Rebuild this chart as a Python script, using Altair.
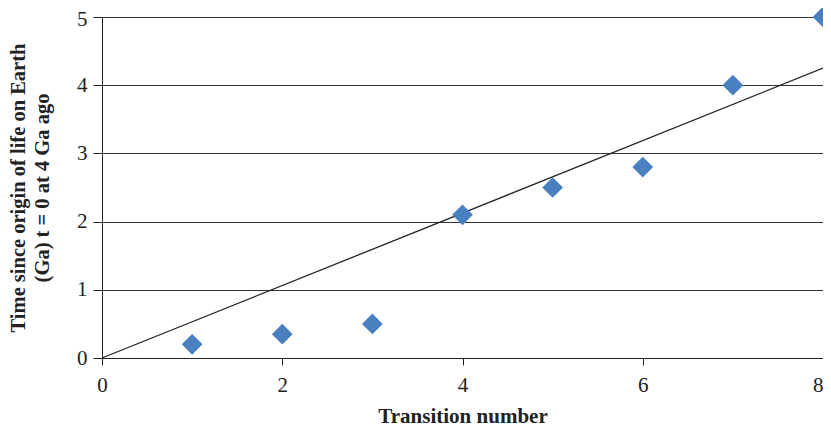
import altair as alt
import pandas as pd

transition = [1, 2, 3, 4, 5, 6, 7, 8]
time_ga = [0.2, 0.35, 0.5, 2.1, 2.5, 2.8, 4.0, 5.0]
fit_x = [0, 8]
fit_y = [0, 4.25]

pts = pd.DataFrame({"x": transition, "y": time_ga})
fit = pd.DataFrame({"x": fit_x, "y": fit_y})

FONT = "Liberation Serif"

xscale = alt.Scale(domain=[0, 8], nice=False)
yscale = alt.Scale(domain=[0, 5], nice=False)

xaxis = alt.Axis(title="Transition number", values=[0, 2, 4, 6, 8], grid=False, format="d",
                 tickSize=7, tickColor="#222", domainColor="#222",
                 labelAlign=alt.expr("datum.value == 8 ? 'right' : 'center'"),
                 labelFlush=False,
                 labelFont=FONT, labelFontSize=21, labelColor="#222", labelPadding=9,
                 titleFont=FONT, titleFontSize=21, titleFontWeight="bold", titleColor="#222",
                 titlePadding=10)
yaxis = alt.Axis(title=["Time since origin of life on Earth", "(Ga) t = 0 at 4 Ga ago"],
                 values=[0, 1, 2, 3, 4, 5], grid=True, gridColor="#333", gridWidth=1, format="d",
                 tickSize=9, tickColor="#222", domainColor="#222", labelFlush=False,
                 labelOffset=alt.expr("datum.value == 5 ? 2 : 0"),
                 labelFont=FONT, labelFontSize=21, labelColor="#222", labelPadding=6,
                 titleFont=FONT, titleFontSize=20.5, titleFontWeight="bold", titleColor="#222",
                 titlePadding=24, titleLineHeight=24)

points = alt.Chart(pts).mark_point(shape="diamond", filled=True, size=430,
                                   color="#4a7fc0", opacity=1).encode(
    x=alt.X("x:Q", scale=xscale, axis=xaxis),
    y=alt.Y("y:Q", scale=yscale, axis=yaxis),
)

line = alt.Chart(fit).mark_line(color="#222", strokeWidth=1.3, clip=False).encode(
    x=alt.X("x:Q", scale=xscale),
    y=alt.Y("y:Q", scale=yscale),
)

chart = alt.layer(line, points).properties(
    width=721, height=341,
    autosize=alt.AutoSizeParams(type="none"),
    padding={"left": 94, "top": 9, "right": 0, "bottom": 72},
).configure_view(stroke=None)

chart.save("out.html", embed_options={"renderer": "svg", "actions": False})
